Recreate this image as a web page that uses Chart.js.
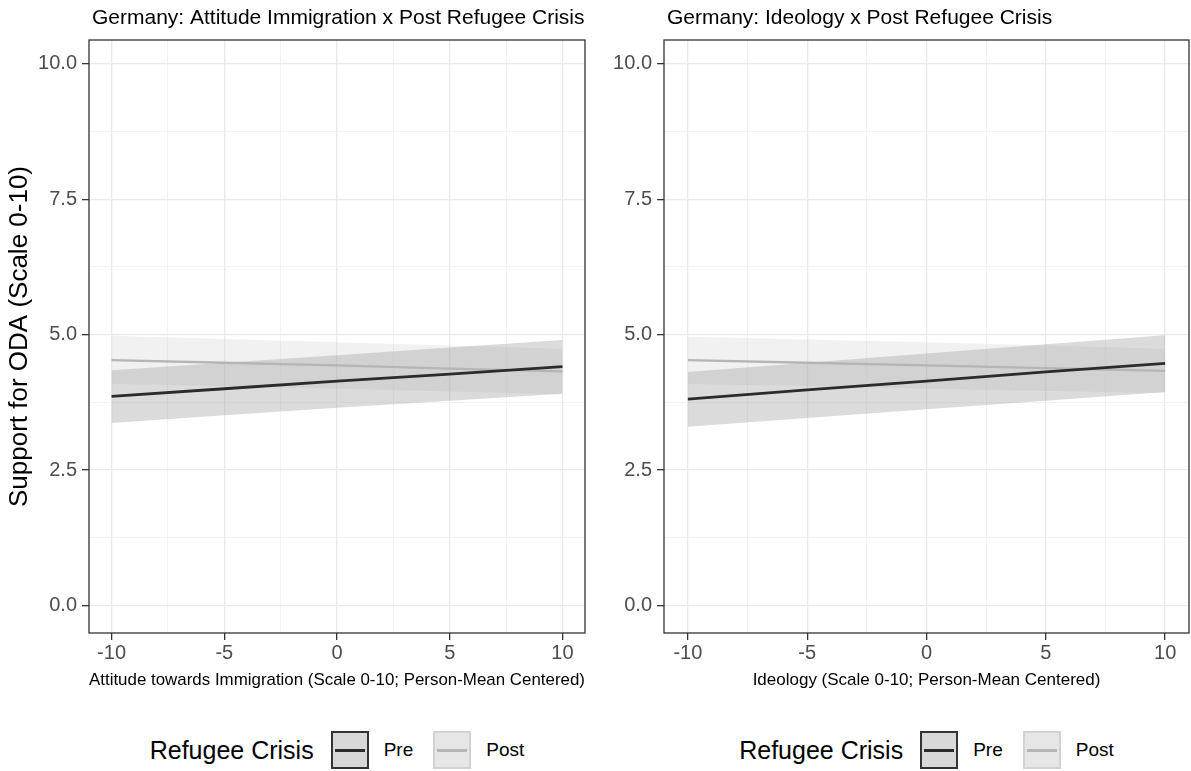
<!DOCTYPE html>
<html>
<head>
<meta charset="utf-8">
<script src="https://cdn.jsdelivr.net/npm/chart.js@4.4.1/dist/chart.umd.min.js"></script>
<style>
  html, body { margin: 0; padding: 0; background: #ffffff; }
  body { width: 1191px; height: 771px; position: relative; overflow: hidden;
         font-family: "Liberation Sans", Arial, Helvetica, sans-serif; }
  .panel { position: absolute; top: 0; height: 700px; }
  #panelA { left: 0; width: 595px; }
  #panelB { left: 595px; width: 596px; }
  .legend { position: absolute; top: 730px; height: 40px; display: flex;
            align-items: center; justify-content: center; color: #000; }
  .legend .ttl { font-size: 25px; margin-right: 17px; }
  .legend .key { width: 34px; height: 34px; position: relative; box-sizing: content-box; }
  .legend .key .ln { position: absolute; left: 2px; right: 2px; top: 50%; margin-top: -1.5px; height: 3px; }
  .legend .lbl { font-size: 19px; margin-left: 15px; margin-right: 20px; }
</style>
</head>
<body>
<div id="panelA" class="panel"><canvas id="chartA" width="595" height="700"></canvas></div>
<div id="panelB" class="panel"><canvas id="chartB" width="596" height="700"></canvas></div>
<div id="legendA" class="legend" style="left:89px;width:496px;"></div>
<div id="legendB" class="legend" style="left:664px;width:525px;"></div>
<script>
// ---- data -------------------------------------------------------------
const xPoints = [-10, -5, 0, 5, 10];
const xTickValues = [-10, -5, 0, 5, 10];
const xTickLabels = ['-10', '-5', '0', '5', '10'];
const xGridValues = [-10, -7.5, -5, -2.5, 0, 2.5, 5, 7.5, 10];
const yTickValues = [0, 2.5, 5, 7.5, 10];
const yTickLabels = ['0.0', '2.5', '5.0', '7.5', '10.0'];
const yGridValues = [0, 1.25, 2.5, 3.75, 5, 6.25, 7.5, 8.75, 10];

const seriesNames = ['Pre', 'Post'];
const legendTitle = 'Refugee Crisis';
const yAxisTitle = 'Support for ODA (Scale 0-10)';

// Attitude towards immigration
const immTitle = 'Germany: Attitude Immigration x Post Refugee Crisis';
const immXTitle = 'Attitude towards Immigration (Scale 0-10; Person-Mean Centered)';
const immPreFit   = [3.86, 4.00, 4.14, 4.27, 4.41];
const immPreLow   = [3.37, 3.51, 3.65, 3.78, 3.91];
const immPreHigh  = [4.34, 4.48, 4.62, 4.76, 4.90];
const immPostFit  = [4.53, 4.48, 4.43, 4.37, 4.32];
const immPostLow  = [4.09, 4.05, 4.00, 3.95, 3.90];
const immPostHigh = [4.98, 4.92, 4.86, 4.80, 4.74];

// Ideology
const ideoTitle = 'Germany: Ideology x Post Refugee Crisis';
const ideoXTitle = 'Ideology (Scale 0-10; Person-Mean Centered)';
const ideoPreFit   = [3.81, 3.98, 4.14, 4.31, 4.47];
const ideoPreLow   = [3.30, 3.46, 3.62, 3.78, 3.94];
const ideoPreHigh  = [4.31, 4.48, 4.65, 4.82, 4.99];
const ideoPostFit  = [4.53, 4.48, 4.43, 4.38, 4.33];
const ideoPostLow  = [4.09, 4.05, 4.00, 3.96, 3.92];
const ideoPostHigh = [4.96, 4.91, 4.86, 4.80, 4.74];

// ---- styling ----------------------------------------------------------
const lineColors = ['#2b2b2b', '#b5b5b5'];
const bandColors = ['rgba(160,160,160,0.38)', 'rgba(205,205,205,0.28)'];
const keyFills   = ['#d8d8d8', '#e6e6e6'];
const keyBorders = ['#333333', '#d2d2d2'];
const FONT = '"Liberation Sans", Arial, Helvetica, sans-serif';

const toXY = (ys) => ys.map((y, i) => ({ x: xPoints[i], y }));
const isIn = (arr, v) => arr.some(a => Math.abs(a - v) < 1e-9);

// panel outline and panel title
const panelDecor = {
  id: 'panelDecor',
  afterDatasetsDraw(chart, args, opts) {
    const { ctx, chartArea: a } = chart;
    ctx.save();
    ctx.strokeStyle = '#333333';
    ctx.lineWidth = 1.3;
    ctx.strokeRect(a.left, a.top, a.right - a.left, a.bottom - a.top);
    ctx.restore();
  },
  afterDraw(chart, args, opts) {
    const { ctx, chartArea: a } = chart;
    ctx.save();
    ctx.fillStyle = '#000000';
    ctx.font = opts.size + 'px ' + FONT;
    ctx.textAlign = 'left';
    ctx.textBaseline = 'middle';
    ctx.fillText(opts.text, a.left + 3, opts.y);
    ctx.restore();
  }
};

function band(data, lowData, color, order) {
  return [
    { data: toXY(data), fill: '+1', backgroundColor: color, borderWidth: 0,
      pointRadius: 0, order: order },
    { data: toXY(lowData), fill: false, borderWidth: 0, pointRadius: 0, order: order + 1 }
  ];
}

function makeChart(id, cfg) {
  const datasets = [
    { label: seriesNames[0], data: toXY(cfg.preFit), borderColor: lineColors[0], borderWidth: 2.8,
      pointRadius: 0, fill: false, order: 0 },
    { label: seriesNames[1], data: toXY(cfg.postFit), borderColor: lineColors[1], borderWidth: 2.3,
      pointRadius: 0, fill: false, order: 1 },
    ...band(cfg.preHigh, cfg.preLow, bandColors[0], 2),
    ...band(cfg.postHigh, cfg.postLow, bandColors[1], 4)
  ];
  return new Chart(document.getElementById(id), {
    type: 'line',
    data: { datasets },
    plugins: [panelDecor],
    options: {
      responsive: false,
      animation: false,
      layout: { padding: { top: 40, right: cfg.padRight, left: 0, bottom: 0 } },
      plugins: {
        legend: { display: false },
        tooltip: { enabled: false },
        panelDecor: { text: cfg.title, size: 21, y: 18 }
      },
      scales: {
        x: {
          type: 'linear', min: -11, max: 11,
          afterBuildTicks: s => { s.ticks = xGridValues.map(v => ({ value: v })); },
          afterFit: s => { s.height = 67; },
          ticks: {
            autoSkip: false, maxRotation: 0, padding: 1,
            color: '#4d4d4d', font: { size: 20, family: FONT },
            callback: v => { const i = xTickValues.findIndex(t => Math.abs(t - v) < 1e-9); return i >= 0 ? xTickLabels[i] : ''; }
          },
          grid: {
            color: c => isIn(xTickValues, c.tick.value) ? '#e9e9e9' : '#f1f1f1',
            lineWidth: c => isIn(xTickValues, c.tick.value) ? 1.3 : 0.9,
            tickColor: c => isIn(xTickValues, c.tick.value) ? '#333333' : 'rgba(0,0,0,0)',
            tickLength: 7, tickWidth: 1.3
          },
          border: { display: false },
          title: { display: true, text: cfg.xTitle, color: '#000000',
                   font: { size: 17, family: FONT }, padding: { top: 0, bottom: 9 } }
        },
        y: {
          type: 'linear', min: -0.51, max: 10.44,
          afterBuildTicks: s => { s.ticks = yGridValues.map(v => ({ value: v })); },
          afterFit: s => { s.width = cfg.yWidth; },
          ticks: {
            autoSkip: false, padding: 5,
            color: '#4d4d4d', font: { size: 20, family: FONT },
            callback: v => { const i = yTickValues.findIndex(t => Math.abs(t - v) < 1e-9); return i >= 0 ? yTickLabels[i] : ''; }
          },
          grid: {
            color: c => isIn(yTickValues, c.tick.value) ? '#e9e9e9' : '#f1f1f1',
            lineWidth: c => isIn(yTickValues, c.tick.value) ? 1.3 : 0.9,
            tickColor: c => isIn(yTickValues, c.tick.value) ? '#333333' : 'rgba(0,0,0,0)',
            tickLength: 7, tickWidth: 1.3
          },
          border: { display: false },
          title: { display: cfg.showYTitle, text: yAxisTitle, color: '#000000',
                   font: { size: 26, family: FONT }, padding: { top: 4, bottom: 0 } }
        }
      }
    }
  });
}

makeChart('chartA', {
  title: immTitle, xTitle: immXTitle, yWidth: 89, padRight: 10, showYTitle: true,
  preFit: immPreFit, preLow: immPreLow, preHigh: immPreHigh,
  postFit: immPostFit, postLow: immPostLow, postHigh: immPostHigh
});
makeChart('chartB', {
  title: ideoTitle, xTitle: ideoXTitle, yWidth: 69, padRight: 2, showYTitle: false,
  preFit: ideoPreFit, preLow: ideoPreLow, preHigh: ideoPreHigh,
  postFit: ideoPostFit, postLow: ideoPostLow, postHigh: ideoPostHigh
});

// legend rows under each panel
function buildLegend(id) {
  const el = document.getElementById(id);
  const t = document.createElement('span');
  t.className = 'ttl';
  t.textContent = legendTitle;
  el.appendChild(t);
  seriesNames.forEach((name, i) => {
    const k = document.createElement('span');
    k.className = 'key';
    k.style.background = keyFills[i];
    k.style.border = '2px solid ' + keyBorders[i];
    const ln = document.createElement('span');
    ln.className = 'ln';
    ln.style.background = lineColors[i];
    k.appendChild(ln);
    el.appendChild(k);
    const l = document.createElement('span');
    l.className = 'lbl';
    l.textContent = name;
    if (i === seriesNames.length - 1) l.style.marginRight = '0';
    el.appendChild(l);
  });
}
buildLegend('legendA');
buildLegend('legendB');
</script>
</body>
</html>
